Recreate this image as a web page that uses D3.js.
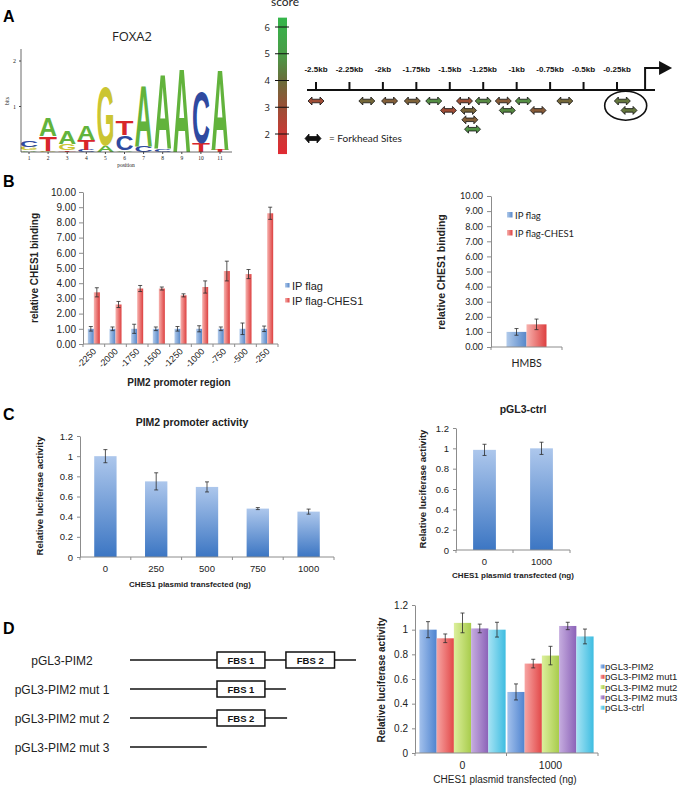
<!DOCTYPE html>
<html>
<head>
<meta charset="utf-8">
<script src="https://cdn.jsdelivr.net/npm/d3@7"></script>
<style>
  body { margin: 0; background: #fff; }
  svg { display: block; font-family: "Liberation Sans", Arial, sans-serif; }
</style>
</head>
<body>
<div id="fig"></div>
<script>
// ---- Panel A: FOXA2 motif logo (letters stacked bottom-up, heights in bits)
const logoPositions = [1, 2, 3, 4, 5, 6, 7, 8, 9, 10, 11];
const logoStacks = [
  [['A', 0.04], ['G', 0.07], ['C', 0.15]],
  [['G', 0.03], ['T', 0.32], ['A', 0.42]],
  [['T', 0.04], ['G', 0.13], ['A', 0.28]],
  [['C', 0.05], ['T', 0.22], ['A', 0.32]],
  [['A', 0.15], ['G', 1.32]],
  [['A', 0.04], ['C', 0.33], ['T', 0.33]],
  [['C', 0.14], ['A', 1.36]],
  [['C', 0.06], ['A', 1.66]],
  [['A', 1.88]],
  [['T', 0.2], ['C', 1.14]],
  [['T', 0.05], ['A', 1.8]]
];
const logoBitTicks = [1, 2];

// ---- Panel A: forkhead sites on the PIM2 promoter
const scoreTicks = [2, 3, 4, 5, 6];
const kbTicks = [-2.5, -2.25, -2, -1.75, -1.5, -1.25, -1, -0.75, -0.5, -0.25];
const kbLabels = ['-2.5kb', '-2.25kb', '-2kb', '-1.75kb', '-1.5kb', '-1.25kb', '-1kb', '-0.75kb', '-0.5kb', '-0.25kb'];
const siteKb = [-2.5, -2.12, -1.95, -1.78, -1.62, -1.51, -1.39, -1.36, -1.35, -1.33, -1.25, -1.10, -1.07, -0.95, -0.84, -0.64, -0.21, -0.16];
const siteLane = [0, 0, 0, 0, 0, 1, 0, 1, 2, 3, 0, 0, 1, 0, 1, 0, 0, 1];
const siteScore = [2.9, 3.8, 3.5, 3.6, 4.7, 2.9, 3.0, 3.7, 3.5, 4.8, 4.6, 3.4, 4.6, 4.7, 3.4, 3.8, 4.2, 4.2];
const circledSites = [16, 17];
const tssKb = -0.04;

// ---- Panel B: ChIP
const chipRegions = ['-2250', '-2000', '-1750', '-1500', '-1250', '-1000', '-750', '-500', '-250'];
const chipFlag = [1.0, 1.0, 1.0, 1.0, 1.0, 1.0, 1.0, 1.0, 1.0];
const chipFlagErr = [0.15, 0.12, 0.3, 0.12, 0.15, 0.2, 0.12, 0.38, 0.18];
const chipChes = [3.4, 2.6, 3.65, 3.65, 3.2, 3.75, 4.8, 4.6, 8.6];
const chipChesErr = [0.3, 0.2, 0.2, 0.1, 0.1, 0.4, 0.65, 0.3, 0.4];
const bindingTicks = [0, 1, 2, 3, 4, 5, 6, 7, 8, 9, 10];
const hmbsCats = ['HMBS'];
const hmbsFlag = [1.0];
const hmbsFlagErr = [0.22];
const hmbsChes = [1.5];
const hmbsChesErr = [0.35];
const chipLegend = ['IP flag', 'IP flag-CHES1'];

// ---- Panel C: luciferase
const luciferaseTicks = [0, 0.2, 0.4, 0.6, 0.8, 1, 1.2];
const doseCats = ['0', '250', '500', '750', '1000'];
const doseActivity = [1.0, 0.75, 0.695, 0.48, 0.45];
const doseErr = [0.065, 0.085, 0.05, 0.01, 0.025];
const ctrlCats = ['0', '1000'];
const ctrlActivity = [0.985, 1.0];
const ctrlErr = [0.055, 0.06];

// ---- Panel D: constructs and mutants
const constructLabels = ['pGL3-PIM2', 'pGL3-PIM2 mut 1', 'pGL3-PIM2 mut 2', 'pGL3-PIM2 mut 3'];
const constructLength = [100, 69, 69.5, 34];
const constructBoxes = [
  [['FBS 1', 38.5, 59.7], ['FBS 2', 69, 90.5]],
  [['FBS 1', 38.5, 59.7]],
  [['FBS 2', 38.5, 59.7]],
  []
];
const mutCats = ['0', '1000'];
const mutSeries = ['pGL3-PIM2', 'pGL3-PIM2 mut1', 'pGL3-PIM2 mut2', 'pGL3-PIM2 mut3', 'pGL3-ctrl'];
const mutValues = [[1.0, 0.495], [0.93, 0.725], [1.055, 0.79], [1.01, 1.03], [1.0, 0.945]];
const mutErrs = [[0.065, 0.065], [0.035, 0.035], [0.08, 0.075], [0.035, 0.03], [0.06, 0.06]];

const svg = d3.select('#fig').append('svg')
  .attr('width', 684)
  .attr('height', 785);
const defs = svg.append('defs');

function grad(id, c1, c2, vertical) {
  const lg = defs.append('linearGradient').attr('id', id)
    .attr('x1', 0).attr('y1', 0)
    .attr('x2', vertical ? 0 : 1).attr('y2', vertical ? 1 : 0);
  lg.append('stop').attr('offset', '0%').attr('stop-color', c1);
  lg.append('stop').attr('offset', '100%').attr('stop-color', c2);
  return `url(#${id})`;
}

function label(x, y, txt, size, opts = {}) {
  return svg.append('text')
    .attr('x', x).attr('y', y)
    .attr('font-size', size)
    .attr('font-weight', opts.bold ? 'bold' : null)
    .attr('font-family', opts.ff || null)
    .attr('text-anchor', opts.anchor || 'start')
    .attr('fill', opts.fill || '#222')
    .attr('transform', opts.rotate ? `rotate(-90,${x},${y})` : null)
    .text(txt);
}

// panel letters
[['A', 22], ['B', 187], ['C', 420], ['D', 634]].forEach(([t, y]) => label(3, y, t, 16, { bold: true, fill: '#000' }));

// ================= Panel A, logo
const logoColor = { A: '#62b33c', C: '#2f4aa0', G: '#cbc532', T: '#d8262a' };
const posX = d3.scaleLinear().domain([1, 11]).range([29, 220]);
const bitsY = d3.scaleLinear().domain([0, 2]).range([152, 61]);
const letterW = 18;
const capH = 20 * 0.716;

logoStacks.forEach((stack, pi) => {
  let base = 0;
  stack.forEach(([ch, h]) => {
    const yb = bitsY(base);
    const px = bitsY(0) - bitsY(h);
    svg.append('text')
      .attr('transform', `translate(${posX(logoPositions[pi]) - letterW / 2},${yb}) scale(1,${px / capH})`)
      .attr('font-size', 20)
      .attr('font-weight', 'bold')
      .attr('textLength', letterW)
      .attr('lengthAdjust', 'spacingAndGlyphs')
      .attr('fill', logoColor[ch])
      .text(ch);
    base += h;
  });
});

svg.append('line').attr('x1', 21).attr('x2', 21).attr('y1', 49).attr('y2', 152).attr('stroke', '#444').attr('stroke-width', 0.8);
svg.append('line').attr('x1', 21).attr('x2', 232).attr('y1', 152).attr('y2', 152).attr('stroke', '#444').attr('stroke-width', 0.8);
logoBitTicks.forEach(b => {
  svg.append('line').attr('x1', 19).attr('x2', 21).attr('y1', bitsY(b)).attr('y2', bitsY(b)).attr('stroke', '#444');
  label(16, bitsY(b) + 2, String(b), 6, { ff: 'Liberation Serif', anchor: 'end' });
});
logoPositions.forEach(p => {
  svg.append('line').attr('x1', posX(p)).attr('x2', posX(p)).attr('y1', 152).attr('y2', 154).attr('stroke', '#444');
  label(posX(p), 160, String(p), 5.5, { ff: 'Liberation Serif', anchor: 'middle' });
});
label(126, 166.5, 'position', 5.5, { ff: 'Liberation Serif', anchor: 'middle' });
label(9, 101, 'bits', 5.5, { ff: 'Liberation Serif', anchor: 'middle', rotate: true });
label(132, 41, 'FOXA2', 13, { ff: 'Open Sans', anchor: 'middle' });

// ================= Panel A, score bar and sites
const scoreY = d3.scaleLinear().domain([2, 6]).range([134, 27]);
const scoreColor = d3.scaleLinear()
  .domain([1.25, 2, 3, 4, 5, 6.35])
  .range(['#e02a33', '#c93a35', '#9a4f36', '#6a6d3a', '#4a9c48', '#35b64b']);
const scoreGrad = defs.append('linearGradient').attr('id', 'scoreGrad')
  .attr('x1', 0).attr('y1', 0).attr('x2', 0).attr('y2', 1);
const barTop = scoreY(6.35), barBot = scoreY(1.25);
scoreColor.domain().slice().reverse().forEach(s => {
  scoreGrad.append('stop')
    .attr('offset', (scoreY(s) - barTop) / (barBot - barTop))
    .attr('stop-color', scoreColor(s));
});
svg.append('rect').attr('x', 278).attr('y', barTop).attr('width', 9).attr('height', barBot - barTop).attr('fill', 'url(#scoreGrad)');
scoreTicks.forEach(s => {
  svg.append('line').attr('x1', 275).attr('x2', 289).attr('y1', scoreY(s)).attr('y2', scoreY(s)).attr('stroke', '#111').attr('stroke-width', 1);
  label(270, scoreY(s) + 3.5, String(s), 9.5, { ff: 'Open Sans', anchor: 'end' });
});
label(285, 6, 'score', 12, { ff: 'Lato', anchor: 'middle' });

const kbX = d3.scaleLinear().domain([-2.5, -0.25]).range([316, 617]);
svg.append('line').attr('x1', 307).attr('x2', 655).attr('y1', 90).attr('y2', 90).attr('stroke', '#111').attr('stroke-width', 2);
kbTicks.forEach((k, i) => {
  svg.append('line').attr('x1', kbX(k)).attr('x2', kbX(k)).attr('y1', 82).attr('y2', 90).attr('stroke', '#111').attr('stroke-width', 2);
  label(kbX(k), 72, kbLabels[i], 8, { bold: true, anchor: 'middle', fill: '#111' });
});
// transcription start arrow
const tx = kbX(tssKb);
svg.append('path')
  .attr('d', `M${tx},90 V68 H${tx + 16}`)
  .attr('fill', 'none').attr('stroke', '#111').attr('stroke-width', 2);
svg.append('path')
  .attr('d', `M${tx + 14},61 L${tx + 27},68 L${tx + 14},75 Z`)
  .attr('fill', '#111');

function dblArrow(cx, cy, fill, w = 16, h = 8) {
  const a = w / 2, b = w / 4, t = h / 2, s = h / 4.5;
  svg.append('path')
    .attr('d', `M${cx - a},${cy} L${cx - b},${cy - t} L${cx - b},${cy - s} L${cx + b},${cy - s} L${cx + b},${cy - t} L${cx + a},${cy} L${cx + b},${cy + t} L${cx + b},${cy + s} L${cx - b},${cy + s} L${cx - b},${cy + t} Z`)
    .attr('fill', fill)
    .attr('stroke', '#111')
    .attr('stroke-width', 0.8)
    .attr('stroke-linejoin', 'round');
}
const laneY = d3.scaleLinear().domain([0, 1]).range([101, 110.4]);
siteKb.forEach((k, i) => dblArrow(kbX(k), laneY(siteLane[i]), scoreColor(siteScore[i])));
const cxs = circledSites.map(i => kbX(siteKb[i]));
const cys = circledSites.map(i => laneY(siteLane[i]));
svg.append('ellipse')
  .attr('cx', d3.mean(cxs)).attr('cy', d3.mean(cys))
  .attr('rx', 21).attr('ry', 14.5)
  .attr('fill', 'none').attr('stroke', '#111').attr('stroke-width', 1.6);
dblArrow(313, 138.5, '#111', 16, 9);
label(329, 142, '= Forkhead Sites', 10, { ff: 'Lato' });

// ================= generic excel-like bar chart
function drawBars(cfg) {
  const g = svg.append('g');
  const x = d3.scaleBand().domain(cfg.cats).range(cfg.xRange)
    .paddingInner(cfg.padInner || 0).paddingOuter(cfg.padOuter || 0);
  const xs = d3.scaleBand().domain(d3.range(cfg.series.length))
    .range([0, x.bandwidth()]).paddingOuter(cfg.subPad || 0);
  const y = d3.scaleLinear().domain([0, cfg.yMax]).range(cfg.yRange);

  cfg.series.forEach((s, si) => {
    const cx = c => x(c) + xs(si) + xs.bandwidth() / 2;
    g.selectAll(null).data(cfg.cats).join('rect')
      .attr('x', c => x(c) + xs(si))
      .attr('width', xs.bandwidth())
      .attr('y', (c, i) => y(s.values[i]))
      .attr('height', (c, i) => y(0) - y(s.values[i]))
      .attr('fill', s.fill);
    const eb = g.selectAll(null).data(cfg.cats).join('g')
      .attr('stroke', '#2b2b2b').attr('stroke-width', 0.8);
    eb.append('line')
      .attr('x1', cx).attr('x2', cx)
      .attr('y1', (c, i) => y(s.values[i] - s.errs[i]))
      .attr('y2', (c, i) => y(s.values[i] + s.errs[i]));
    [-1, 1].forEach(k => {
      eb.append('line')
        .attr('x1', c => cx(c) - 2).attr('x2', c => cx(c) + 2)
        .attr('y1', (c, i) => y(s.values[i] + k * s.errs[i]))
        .attr('y2', (c, i) => y(s.values[i] + k * s.errs[i]));
    });
  });

  const ya = g.append('g')
    .attr('transform', `translate(${cfg.xRange[0]},0)`)
    .call(d3.axisLeft(y).tickValues(cfg.yTicks).tickFormat(cfg.yFmt)
      .tickSize(cfg.tickLen || 4).tickSizeOuter(0).tickPadding(cfg.tickPad || 3));
  ya.select('.domain').attr('stroke', '#8c8c8c');
  ya.selectAll('.tick line').attr('stroke', '#8c8c8c');
  ya.selectAll('.tick text')
    .attr('font-size', cfg.fs)
    .attr('font-family', cfg.ff || 'Liberation Sans')
    .attr('fill', '#222');

  g.append('line')
    .attr('x1', cfg.xRange[0]).attr('x2', cfg.xRange[1])
    .attr('y1', y(0)).attr('y2', y(0))
    .attr('stroke', '#8c8c8c');
  const n = cfg.cats.length;
  d3.range(n + 1).forEach(i => {
    const bx = cfg.xRange[0] + i * (cfg.xRange[1] - cfg.xRange[0]) / n;
    g.append('line').attr('x1', bx).attr('x2', bx).attr('y1', y(0)).attr('y2', y(0) + 3).attr('stroke', '#8c8c8c');
  });

  g.selectAll(null).data(cfg.cats).join('text')
    .attr('transform', c => cfg.rotate
      ? `translate(${x(c) + x.bandwidth() / 2 + 3},${cfg.labelY}) rotate(-45)`
      : `translate(${x(c) + x.bandwidth() / 2},${cfg.labelY})`)
    .attr('text-anchor', cfg.rotate ? 'end' : 'middle')
    .attr('font-size', cfg.labelFs || cfg.fs)
    .attr('font-family', cfg.ff || 'Liberation Sans')
    .attr('fill', '#222')
    .text(c => c);
  return { x, y };
}

// ================= Panel B
const blueB = grad('blueB', '#b2cbeb', '#5687c9', false);
const redB = grad('redB', '#f7b2ae', '#dd4040', false);
drawBars({
  cats: chipRegions,
  series: [
    { values: chipFlag, errs: chipFlagErr, fill: blueB },
    { values: chipChes, errs: chipChesErr, fill: redB }
  ],
  xRange: [83, 278], subPad: 0.8,
  yMax: 10, yRange: [344, 192], yTicks: bindingTicks, yFmt: d3.format('.2f'),
  fs: 10, labelFs: 9, rotate: true, labelY: 352
});
label(38, 268, 'relative CHES1 binding', 10, { bold: true, anchor: 'middle', rotate: true });
label(179, 386, 'PIM2 promoter region', 10, { bold: true, anchor: 'middle' });
[blueB, redB].forEach((f, i) => {
  svg.append('rect').attr('x', 285).attr('y', 283 + i * 15).attr('width', 4.5).attr('height', 4.5).attr('fill', f);
  label(292, 289.5 + i * 15, chipLegend[i], 11);
});

drawBars({
  cats: hmbsCats,
  series: [
    { values: hmbsFlag, errs: hmbsFlagErr, fill: blueB },
    { values: hmbsChes, errs: hmbsChesErr, fill: redB }
  ],
  xRange: [491, 562], subPad: 0.775,
  yMax: 10, yRange: [347, 196], yTicks: bindingTicks, yFmt: d3.format('.2f'),
  fs: 9, labelFs: 10.5, ff: 'Lato', labelY: 367, tickPad: 4
});
label(445, 272, 'relative CHES1 binding', 10.5, { bold: true, anchor: 'middle', rotate: true });
[blueB, redB].forEach((f, i) => {
  svg.append('rect').attr('x', 507).attr('y', 212 + i * 18).attr('width', 5.5).attr('height', 5.5).attr('fill', f);
  label(515, 218.5 + i * 18, chipLegend[i], 9.5, { ff: 'Lato' });
});

// ================= Panel C
const blueC = grad('blueC', '#adc7ec', '#3c76c3', true);
drawBars({
  cats: doseCats,
  series: [{ values: doseActivity, errs: doseErr, fill: blueC }],
  xRange: [80, 334], padInner: 0.56, padOuter: 0.28,
  yMax: 1.2, yRange: [557, 436], yTicks: luciferaseTicks, yFmt: d => String(d),
  fs: 9.5, labelY: 572, tickLen: 3, tickPad: 4
});
label(192, 426, 'PIM2 promoter activity', 10.5, { bold: true, anchor: 'middle' });
label(43, 496, 'Relative luciferase activity', 9.5, { bold: true, anchor: 'middle', rotate: true });
label(190, 587, 'CHES1 plasmid transfected (ng)', 8, { bold: true, anchor: 'middle' });

drawBars({
  cats: ctrlCats,
  series: [{ values: ctrlActivity, errs: ctrlErr, fill: blueC }],
  xRange: [456, 570], padInner: 0.6, padOuter: 0.3,
  yMax: 1.2, yRange: [550, 428], yTicks: luciferaseTicks, yFmt: d => String(d),
  fs: 9.5, labelY: 565, tickLen: 3, tickPad: 4
});
label(523, 413, 'pGL3-ctrl', 10.5, { bold: true, anchor: 'middle' });
label(426, 489, 'Relative luciferase activity', 9.5, { bold: true, anchor: 'middle', rotate: true });
label(513, 578, 'CHES1 plasmid transfected (ng)', 8, { bold: true, anchor: 'middle' });

// ================= Panel D, constructs
const consX = d3.scaleLinear().domain([0, 100]).range([130, 356]);
const consY = d3.scalePoint().domain(constructLabels).range([660, 747]);
constructLabels.forEach((name, i) => {
  const cy = consY(name);
  label(62, cy + 4.5, name, 12, { anchor: 'middle' });
  svg.append('line')
    .attr('x1', consX(0)).attr('x2', consX(constructLength[i]))
    .attr('y1', cy).attr('y2', cy)
    .attr('stroke', '#111').attr('stroke-width', 1.5);
  constructBoxes[i].forEach(([t, a, b]) => {
    svg.append('rect')
      .attr('x', consX(a)).attr('y', cy - 8)
      .attr('width', consX(b) - consX(a)).attr('height', 16)
      .attr('fill', '#fff').attr('stroke', '#111').attr('stroke-width', 1.5);
    label((consX(a) + consX(b)) / 2, cy + 3.5, t, 9.5, { bold: true, anchor: 'middle', fill: '#111' });
  });
});

// ================= Panel D, mutant luciferase
const mutFills = [
  grad('dBlue', '#a3c1ec', '#4f84d0', false),
  grad('dRed', '#f7a5a3', '#e24848', false),
  grad('dGreen', '#dcef9c', '#a8cc4c', false),
  grad('dPurple', '#c6addf', '#8b62b8', false),
  grad('dCyan', '#a6e3f4', '#3ebde1', false)
];
drawBars({
  cats: mutCats,
  series: mutSeries.map((s, i) => ({ values: mutValues[i], errs: mutErrs[i], fill: mutFills[i] })),
  xRange: [415, 598], padInner: 0.02, padOuter: 0.05,
  yMax: 1.2, yRange: [753, 605], yTicks: luciferaseTicks, yFmt: d => String(d),
  fs: 10, labelFs: 10.5, labelY: 769, tickLen: 3, tickPad: 4
});
label(385, 680, 'Relative luciferase activity', 10, { bold: true, anchor: 'middle', rotate: true });
label(505, 783, 'CHES1 plasmid transfected (ng)', 10, { anchor: 'middle' });
mutSeries.forEach((s, i) => {
  svg.append('rect').attr('x', 600.5).attr('y', 664.5 + i * 10.3).attr('width', 4).attr('height', 4).attr('fill', mutFills[i]);
  label(605, 670 + i * 10.3, s, 9.5);
});
</script>
</body>
</html>
